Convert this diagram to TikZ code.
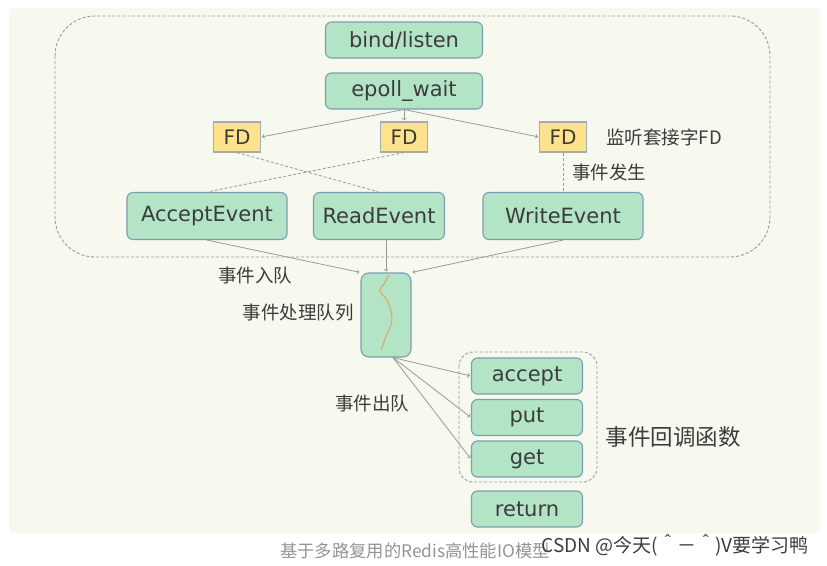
\documentclass[tikz,border=0pt]{standalone}
\usepackage{fontspec}
\setmainfont{DejaVu Sans}
\newfontfamily\cjk{Noto Sans CJK SC}
\usetikzlibrary{arrows,positioning}
\definecolor{paper}{HTML}{F7F9EE}
\definecolor{boxfill}{HTML}{B3E4C6}
\definecolor{boxline}{HTML}{7C9DB3}
\definecolor{fdfill}{HTML}{FFE38C}
\definecolor{fdline}{HTML}{A3ABB3}
\definecolor{ink}{HTML}{3C3C3C}
\definecolor{wire}{HTML}{9A9A9A}
\definecolor{squig}{HTML}{E3A263}

\tikzset{
  func/.style={draw=boxline,fill=boxfill,rounded corners=6pt,line width=1.1pt,
    minimum width=157pt,minimum height=36pt,inner sep=0pt,text=ink,
    font=\fontsize{21}{24}\selectfont},
  evt/.style={func,minimum height=47pt,minimum width=160pt},
  fd/.style={draw=fdline,fill=fdfill,line width=1.1pt,minimum width=47pt,
    minimum height=30pt,inner sep=0pt,text=ink,font=\fontsize{20}{22}\selectfont},
  cb/.style={func,minimum width=111pt},
  lbl/.style={text=ink,font=\cjk\fontsize{18.5}{21}\selectfont},
  grp/.style={draw=wire,dash pattern=on 3pt off 2pt,line width=0.9pt}
}

\begin{document}
\begin{tikzpicture}[x=1pt,y=1pt,>=to,shorten >=1pt,node distance=46pt]
\useasboundingbox (0,0) rectangle (827,-565);
\fill[white] (0,0) rectangle (827,-565);
\fill[paper,rounded corners=4pt] (9,-8) rectangle (820,-533);
\draw[grp,rounded corners=40pt] (55,-16) rectangle (770,-257);
\draw[grp,rounded corners=14pt] (459,-352) rectangle (597,-482);

\node[func]  (bind)  at (404,-40)   {bind/listen};
\node[func]  (epoll) [below of=bind,node distance=51pt] {epoll\_wait};
\node[fd]    (fdR)   [below of=epoll]  {FD};
\node[fd]    (fdA)   [left of=fdR,node distance=167pt]  {FD};
\node[fd]    (fdW)   [right of=fdR,node distance=159pt] {FD};
\node[evt]   (accEv) at (207,-216)  {AcceptEvent};
\node[evt,minimum width=131pt] (readEv) at (379,-216) {ReadEvent};
\node[evt]   (writeEv) [below of=fdW,node distance=79pt] {WriteEvent};
\node[func,minimum width=50pt,minimum height=84pt,rounded corners=8pt] (queue) at (386,-315) {};
\node[cb]    (cbAcc) at (527,-376)  {accept};
\node[cb]    (cbPut) [below of=cbAcc,node distance=41.5pt] {put};
\node[cb]    (cbGet) [below of=cbPut,node distance=41.5pt] {get};
\node[cb]    (ret)   at (527,-509)  {return};

\node[lbl] (lsock)  at (664,-137) {监听套接字FD};
\node[lbl] (happen) at (609,-172) {事件发生};
\node[lbl] (enq)    at (255,-275) {事件入队};
\node[lbl] (qname)  at (298,-313) {事件处理队列};
\node[lbl] (deq)    at (372,-403) {事件出队};
\node[lbl,font=\cjk\fontsize{22.5}{26}\selectfont] (cbname) at (673,-437) {事件回调函数};
\node[text=black!42,font=\cjk\fontsize{17.3}{20}\selectfont] (caption) at (415,-551) {基于多路复用的Redis高性能IO模型};
\node[text=ink,font=\cjk\fontsize{19}{21}\selectfont,anchor=east] (mark) at (812,-545) {CSDN @今天(＾－＾)V要学习鸭};

\draw[squig,line width=1pt] plot[smooth,tension=0.6] coordinates {(389,-275) (384,-284) (380,-291) (388,-302) (392,-320) (386,-336) (381,-351)};

\path[->,color=wire,line width=0.8pt]
(epoll.south) edge (fdA.east)
              edge (fdR.north)
              edge (fdW.west)
(accEv.south) edge (queue.north west)
(readEv.south -| queue.north) edge (queue.north)
(writeEv.south) edge (queue.north east)
([xshift=7pt]queue.south) edge (cbAcc.west)
                          edge (cbPut.west)
                          edge (cbGet.west);

\path[color=wire,dash pattern=on 3pt off 2pt,line width=0.8pt]
(fdA.south) edge (readEv.north)
(fdR.south) edge (accEv.north)
(fdW.south) edge (writeEv.north);
\end{tikzpicture}
\end{document}
